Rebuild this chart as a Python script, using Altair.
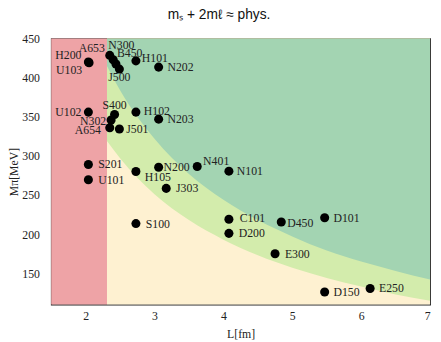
import altair as alt
import pandas as pd

# ---- data ----
names = ["H200", "U103", "A653", "N300", "B450", "J500", "H101", "N202",
         "U102", "S400", "N302", "A654", "J501", "H102", "N203",
         "S201", "U101", "H105", "N200", "N401", "N101", "J303", "S100",
         "C101", "D200", "D450", "D101", "E300", "D150", "E250"]
L_fm = [2.04, 2.05, 2.35, 2.40, 2.44, 2.49, 2.73, 3.06,
        2.04, 2.42, 2.37, 2.35, 2.49, 2.73, 3.06,
        2.04, 2.04, 2.73, 3.06, 3.62, 4.08, 3.17, 2.73,
        4.08, 4.08, 4.84, 5.47, 4.75, 5.47, 6.13]
M_pi = [420, 419, 428.5, 423, 417.5, 411, 421.5, 413.5,
        356, 353, 346, 336, 334.5, 356, 347,
        289, 269.5, 280, 285.5, 286.5, 280.5, 258.5, 213.5,
        219, 201, 215.5, 221, 175, 126, 130.5]

# region boundaries
L_cut = [1.5, 2.31, 7.0]          # red region  L < 2.31 fm
curve_L = [2.31, 2.5, 3.0, 3.5, 4.0, 4.5, 5.0, 5.5, 6.0, 6.5, 7.0]
curve_dark = [415, 384, 322, 277, 244, 218, 197, 179, 165, 153, 142]
curve_light = [319, 297, 251, 218, 193, 173, 157, 144, 133, 123, 115]
y_range = [110, 450]

# label placement (layout only): align, dx, dy
placement = {
    "H200": ("right", -7, -7), "U103": ("right", -7, 7), "A653": ("right", -5, -7),
    "N300": ("left", -5, -15), "B450": ("left", 1, -11), "J500": ("center", 0, 8),
    "H101": ("left", 6, -3), "N202": ("left", 9, 0), "U102": ("right", -7, 0),
    "S400": ("center", 0, -10), "N302": ("right", -5, 1), "A654": ("right", -9, 2),
    "J501": ("left", 7, 0), "H102": ("left", 8, -1), "N203": ("left", 9, 0),
    "S201": ("left", 10, 0), "U101": ("left", 10, 0), "H105": ("left", 9, 6),
    "N200": ("left", 5, 0), "N401": ("left", 6, -6), "N101": ("left", 8, 0),
    "J303": ("left", 10, 0), "S100": ("left", 10, 0), "C101": ("left", 11, -1),
    "D200": ("left", 10, 0), "D450": ("left", 6, 1), "D101": ("left", 9, 0),
    "E300": ("left", 10, 0), "D150": ("left", 9, 0), "E250": ("left", 9, 0),
}

pts = pd.DataFrame({"name": names, "L": L_fm, "M": M_pi})

curves = pd.DataFrame({"L": curve_L, "dark": curve_dark, "light": curve_light,
                       "top": [y_range[1]] * len(curve_L)})
rects = pd.DataFrame({"x0": [L_cut[1], L_cut[0]], "x1": [L_cut[2], L_cut[1]],
                      "y0": [y_range[0]] * 2, "y1": [y_range[1]] * 2,
                      "c": ["yellow", "red"]})

xs = alt.Scale(domain=[1.5, 7], nice=False, zero=False)
ys = alt.Scale(domain=y_range, nice=False, zero=False)

SERIF = "Liberation Serif"
TXT = "#222"

x_axis = alt.Axis(values=[2, 3, 4, 5, 6, 7], format="d", title="L[fm]", grid=False,
                  ticks=False, tickSize=0, labelPadding=6, labelFont=SERIF,
                  labelFontSize=12, labelColor=TXT, titleFont=SERIF, titleFontSize=12,
                  titleFontWeight="normal", titleColor=TXT, titlePadding=8,
                  domain=False)
y_axis = alt.Axis(values=[150, 200, 250, 300, 350, 400, 450], format="d",
                  title="Mπ[MeV]", grid=False, ticks=False, tickSize=0,
                  labelPadding=12, labelFont=SERIF, labelFontSize=12, labelColor=TXT,
                  titleFont=SERIF, titleFontSize=12, titleFontWeight="normal",
                  titleColor=TXT, titlePadding=1, domain=False)

bg = alt.Chart(rects).mark_rect().encode(
    x=alt.X("x0:Q", scale=xs, axis=x_axis), x2="x1:Q",
    y=alt.Y("y0:Q", scale=ys, axis=y_axis), y2="y1:Q",
    color=alt.Color("c:N", scale=alt.Scale(domain=["yellow", "red"],
                                           range=["#FEF1D1", "#EEA3A6"]), legend=None),
)

light = alt.Chart(curves).mark_area(color="#D3ECAC", interpolate="monotone", clip=True).encode(
    x=alt.X("L:Q", scale=xs), y=alt.Y("light:Q", scale=ys), y2="top:Q")
dark = alt.Chart(curves).mark_area(color="#A3D4B2", interpolate="monotone", clip=True).encode(
    x=alt.X("L:Q", scale=xs), y=alt.Y("dark:Q", scale=ys), y2="top:Q")

dots = alt.Chart(pts).mark_circle(size=85, color="black", opacity=1).encode(
    x=alt.X("L:Q", scale=xs), y=alt.Y("M:Q", scale=ys))

# one text layer per distinct placement
groups = {}
for n in names:
    groups.setdefault(placement[n], []).append(n)

labels = []
for (al, dx, dy), members in groups.items():
    labels.append(
        alt.Chart(pts).transform_filter(
            alt.FieldOneOfPredicate(field="name", oneOf=members)
        ).mark_text(
            align=al, baseline="middle", dx=dx, dy=dy,
            font=SERIF, fontSize=12, color=TXT
        ).encode(
            x=alt.X("L:Q", scale=xs), y=alt.Y("M:Q", scale=ys),
            text="name:N",
        )
    )

chart = alt.layer(bg, light, dark, dots, *labels).properties(
    width=386, height=271,
    title=alt.TitleParams("mₛ + 2mℓ ≈ phys.", font="Liberation Sans", fontSize=14,
                          fontWeight="normal", color="#111", anchor="middle",
                          frame="bounds", offset=11),
    autosize=alt.AutoSizeParams(type="none"),
    padding={"left": 44, "top": 28, "right": 3, "bottom": 35},
).configure_view(stroke="#222", strokeWidth=1.2)

chart.save("out.html", embed_options={"renderer": "svg", "actions": False})
